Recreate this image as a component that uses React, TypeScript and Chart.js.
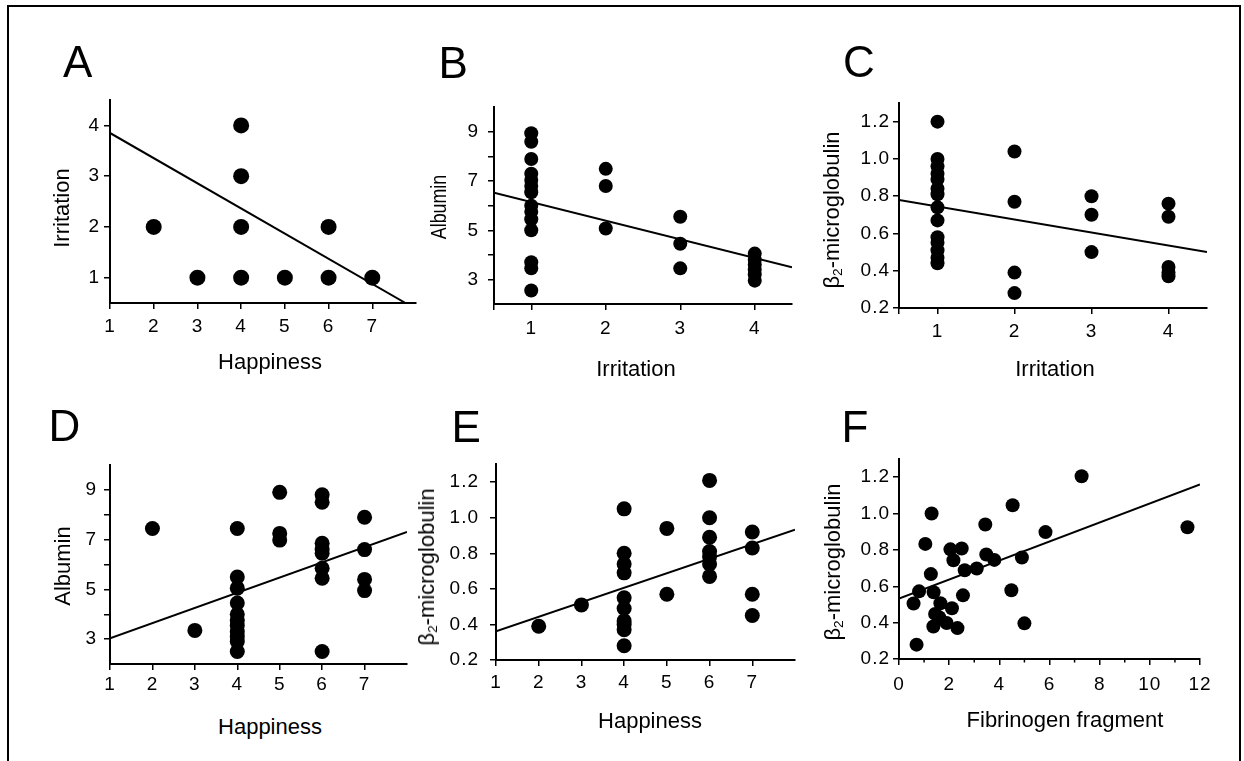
import React, { useEffect, useRef } from "react";
import { Chart, registerables } from "chart.js";

Chart.register(...registerables);

const FONT = "'Liberation Sans', Arial, Helvetica, sans-serif";

// ---------- Panel A: Happiness vs Irritation ----------
const A_HAPPINESS = [2, 3, 4, 4, 4, 4, 5, 6, 6, 7];
const A_IRRITATION = [2, 1, 4, 3, 2, 1, 1, 2, 1, 1];
const A_FIT = [{ x: 1, y: 3.85 }, { x: 7.76, y: 0.5 }];
const A_X_TICKS = [1, 2, 3, 4, 5, 6, 7];
const A_X_LABELS = ["1", "2", "3", "4", "5", "6", "7"];
const A_Y_TICKS = [1, 2, 3, 4];
const A_Y_LABELS = ["1", "2", "3", "4"];

// ---------- Panel B: Irritation vs Albumin ----------
const B_IRRITATION = [1, 1, 1, 1, 1, 1, 1, 1, 1, 1, 1, 1, 1, 1, 2, 2, 2, 3, 3, 3, 4, 4, 4, 4, 4, 4];
const B_ALBUMIN = [8.95, 8.6, 7.9, 7.3, 7.05, 6.8, 6.55, 6.0, 5.75, 5.45, 5.0, 3.7, 3.45, 2.55, 7.5, 6.8, 5.07, 5.55, 4.45, 3.45, 4.05, 3.8, 3.6, 3.4, 3.2, 2.95];
const B_FIT = [{ x: 0.5, y: 6.53 }, { x: 4.5, y: 3.49 }];
const IRR_X_TICKS = [0.5, 1, 2, 3, 4];
const IRR_X_LABELS = ["", "1", "2", "3", "4"];
const ALB_Y_TICKS = [3, 4, 5, 6, 7, 8, 9];
const ALB_Y_LABELS = ["3", "", "5", "", "7", "", "9"];

// ---------- Panel C: Irritation vs beta2-microglobulin ----------
const C_IRRITATION = [1, 1, 1, 1, 1, 1, 1, 1, 1, 1, 1, 1, 1, 1, 2, 2, 2, 2, 3, 3, 3, 4, 4, 4, 4, 4];
const C_B2M = [1.2, 1.0, 0.96, 0.92, 0.89, 0.84, 0.81, 0.74, 0.67, 0.58, 0.55, 0.51, 0.47, 0.44, 1.04, 0.77, 0.39, 0.28, 0.8, 0.7, 0.5, 0.76, 0.69, 0.42, 0.39, 0.37];
const C_FIT = [{ x: 0.5, y: 0.78 }, { x: 4.5, y: 0.5 }];
const B2M_Y_TICKS = [0.2, 0.4, 0.6, 0.8, 1.0, 1.2];
const B2M_Y_LABELS = ["0.2", "0.4", "0.6", "0.8", "1.0", "1.2"];

// ---------- Panel D: Happiness vs Albumin ----------
const D_HAPPINESS = [2, 3, 4, 4, 4, 4, 4, 4, 4, 4, 4, 4, 4, 5, 5, 5, 6, 6, 6, 6, 6, 6, 6, 6, 7, 7, 7, 7];
const D_ALBUMIN = [7.45, 3.35, 7.45, 5.5, 5.05, 4.45, 4.0, 3.75, 3.55, 3.3, 3.1, 2.9, 2.5, 8.9, 7.25, 6.98, 8.8, 8.5, 6.85, 6.6, 6.45, 5.85, 5.45, 2.5, 7.9, 6.6, 5.4, 4.95];
const D_FIT = [{ x: 1, y: 3.03 }, { x: 8, y: 7.31 }];
const HAP_X_TICKS = [1, 2, 3, 4, 5, 6, 7];
const HAP_X_LABELS = ["1", "2", "3", "4", "5", "6", "7"];

// ---------- Panel E: Happiness vs beta2-microglobulin ----------
const E_HAPPINESS = [2, 3, 4, 4, 4, 4, 4, 4, 4, 4, 4, 4, 5, 5, 6, 6, 6, 6, 6, 6, 6, 7, 7, 7, 7];
const E_B2M = [0.39, 0.51, 1.05, 0.8, 0.74, 0.69, 0.55, 0.49, 0.42, 0.4, 0.37, 0.28, 0.94, 0.57, 1.21, 1.0, 0.89, 0.81, 0.78, 0.74, 0.67, 0.92, 0.83, 0.57, 0.45];
const E_FIT = [{ x: 1, y: 0.362 }, { x: 8, y: 0.933 }];

// ---------- Panel F: Fibrinogen fragment vs beta2-microglobulin ----------
const F_FIBRINOGEN = [1.3, 1.05, 1.27, 0.8, 0.58, 0.7, 1.38, 1.65, 1.44, 1.6, 1.37, 1.9, 2.11, 2.33, 2.05, 2.5, 2.17, 2.62, 3.1, 2.55, 3.44, 3.48, 3.8, 4.53, 4.48, 4.9, 5.0, 5.84, 7.28, 11.5];
const F_B2M = [1.0, 0.833, 0.667, 0.572, 0.505, 0.279, 0.567, 0.507, 0.448, 0.43, 0.379, 0.398, 0.479, 0.37, 0.803, 0.808, 0.743, 0.688, 0.698, 0.55, 0.94, 0.775, 0.745, 1.046, 0.578, 0.758, 0.396, 0.898, 1.205, 0.925];
const F_FIT = [{ x: 0, y: 0.533 }, { x: 12, y: 1.16 }];
const FIB_X_TICKS = [0, 2, 4, 6, 8, 10, 12];
const FIB_X_LABELS = ["0", "2", "4", "6", "8", "10", "12"];
const FIB_X_MINOR = [1, 3, 5, 7, 9, 11];

type Rect = { l: number; t: number; r: number; b: number };

type PanelProps = {
  rect: Rect;
  xs: number[];
  ys: number[];
  fit: { x: number; y: number }[];
  xMin: number;
  xMax: number;
  yMin: number;
  yMax: number;
  xTicks: number[];
  xLabels: string[];
  yTicks: number[];
  yLabels: string[];
  radius: number;
  xPad: number;
  yPad: number;
  minorX?: number[];
};

const PAD_L = 70;
const PAD_T = 20;
const PAD_R = 30;
const PAD_B = 50;
const TICK_FONT_SIZE = 19;

const minorTicksPlugin = {
  id: "minorTicks",
  beforeDraw(chart: any) {
    chart.ctx.letterSpacing = "1px";
  },
  afterDraw(chart: any, _args: any, opts: any) {
    chart.ctx.letterSpacing = "0px";
    const vals: number[] | undefined = opts && opts.values;
    if (!vals || !vals.length) return;
    const sx = chart.scales.x;
    const y0 = chart.chartArea.bottom;
    const ctx = chart.ctx;
    ctx.save();
    ctx.strokeStyle = "#000";
    ctx.lineWidth = 1.5;
    vals.forEach((v) => {
      const px = sx.getPixelForValue(v);
      ctx.beginPath();
      ctx.moveTo(px, y0);
      ctx.lineTo(px, y0 + 3.5);
      ctx.stroke();
    });
    ctx.restore();
  },
};

function Panel(p: PanelProps) {
  const ref = useRef<HTMLCanvasElement | null>(null);
  const w = p.rect.r - p.rect.l + PAD_L + PAD_R;
  const h = p.rect.b - p.rect.t + PAD_T + PAD_B;

  useEffect(() => {
    if (!ref.current) return;
    const points = p.xs.map((x, i) => ({ x, y: p.ys[i] }));
    const chart = new Chart(ref.current, {
      type: "scatter",
      data: {
        datasets: [
          {
            data: p.fit,
            showLine: true,
            borderColor: "#000",
            borderWidth: 2,
            pointRadius: 0,
            pointHoverRadius: 0,
            fill: false,
          } as any,
          {
            data: points,
            showLine: false,
            pointRadius: p.radius,
            pointHoverRadius: p.radius,
            pointBackgroundColor: "#000",
            pointBorderWidth: 0,
            pointBorderColor: "#000",
            clip: false,
          } as any,
        ],
      },
      options: {
        animation: false,
        responsive: false,
        events: [],
        layout: { padding: { left: 0, top: PAD_T, right: PAD_R, bottom: 0 } },
        plugins: {
          legend: { display: false },
          tooltip: { enabled: false },
          minorTicks: { values: p.minorX || [] },
        } as any,
        scales: {
          x: {
            type: "linear",
            min: p.xMin,
            max: p.xMax,
            afterFit: (s: any) => {
              s.height = PAD_B;
            },
            afterBuildTicks: (s: any) => {
              s.ticks = p.xTicks.map((v) => ({ value: v }));
            },
            grid: {
              drawOnChartArea: false,
              drawTicks: true,
              tickLength: 6,
              color: "#000",
              lineWidth: 1.5,
            },
            border: { display: true, color: "#000", width: 2 },
            ticks: {
              autoSkip: false,
              maxRotation: 0,
              padding: p.xPad,
              color: "#000",
              font: { family: FONT, size: TICK_FONT_SIZE },
              callback: (_v: any, i: number) => p.xLabels[i],
            },
            title: { display: false },
          },
          y: {
            type: "linear",
            min: p.yMin,
            max: p.yMax,
            afterFit: (s: any) => {
              s.width = PAD_L;
            },
            afterBuildTicks: (s: any) => {
              s.ticks = p.yTicks.map((v) => ({ value: v }));
            },
            grid: {
              drawOnChartArea: false,
              drawTicks: true,
              tickLength: 6,
              color: "#000",
              lineWidth: 1.5,
            },
            border: { display: true, color: "#000", width: 2 },
            ticks: {
              autoSkip: false,
              padding: p.yPad,
              color: "#000",
              font: { family: FONT, size: TICK_FONT_SIZE },
              callback: (_v: any, i: number) => p.yLabels[i],
            },
            title: { display: false },
          },
        },
      } as any,
      plugins: [minorTicksPlugin as any],
    });
    return () => chart.destroy();
  }, []);

  return (
    <canvas
      ref={ref}
      width={w}
      height={h}
      style={{
        position: "absolute",
        left: p.rect.l - PAD_L,
        top: p.rect.t - PAD_T,
        width: w,
        height: h,
      }}
    />
  );
}

const textBase: React.CSSProperties = {
  position: "absolute",
  fontFamily: FONT,
  color: "#000",
  lineHeight: 1,
  whiteSpace: "nowrap",
};

function Letter({ text, left, capCenter }: { text: string; left: number; capCenter: number }) {
  return (
    <div style={{ ...textBase, fontSize: 44, left, top: capCenter - 21.5 }}>{text}</div>
  );
}

function XTitle({ children, cx, cy }: { children: React.ReactNode; cx: number; cy: number }) {
  return (
    <div style={{ ...textBase, fontSize: 22, left: cx, top: cy, transform: "translate(-50%, -50%)" }}>
      {children}
    </div>
  );
}

function YTitle({ children, cx, cy, squeeze = 1 }: { children: React.ReactNode; cx: number; cy: number; squeeze?: number }) {
  return (
    <div
      style={{
        ...textBase,
        fontSize: 22,
        left: cx,
        top: cy,
        transform: `translate(-50%, -50%) rotate(-90deg) scaleX(${squeeze})`,
      }}
    >
      {children}
    </div>
  );
}

function B2M() {
  return (
    <span>
      β<span style={{ fontSize: "0.62em", position: "relative", top: "0.25em" }}>2</span>-microglobulin
    </span>
  );
}

export default function App() {
  return (
    <div
      style={{
        position: "absolute",
        left: 0,
        top: 0,
        width: 1244,
        height: 761,
        overflow: "hidden",
        background: "#fff",
      }}
    >
      <div
        style={{
          position: "absolute",
          left: 7,
          top: 5,
          width: 1234,
          height: 900,
          border: "2px solid #000",
          boxSizing: "border-box",
        }}
      />

      <Panel
        rect={{ l: 110, t: 100, r: 416, b: 303 }}
        xs={A_HAPPINESS}
        ys={A_IRRITATION}
        fit={A_FIT}
        xMin={1}
        xMax={8}
        yMin={0.5}
        yMax={4.5}
        xTicks={A_X_TICKS}
        xLabels={A_X_LABELS}
        yTicks={A_Y_TICKS}
        yLabels={A_Y_LABELS}
        radius={8}
        xPad={6}
        yPad={4}
      />
      <Panel
        rect={{ l: 494, t: 107, r: 792, b: 304 }}
        xs={B_IRRITATION}
        ys={B_ALBUMIN}
        fit={B_FIT}
        xMin={0.5}
        xMax={4.5}
        yMin={2}
        yMax={10}
        xTicks={IRR_X_TICKS}
        xLabels={IRR_X_LABELS}
        yTicks={ALB_Y_TICKS}
        yLabels={ALB_Y_LABELS}
        radius={7}
        xPad={7}
        yPad={9}
      />
      <Panel
        rect={{ l: 899, t: 103, r: 1207, b: 308 }}
        xs={C_IRRITATION}
        ys={C_B2M}
        fit={C_FIT}
        xMin={0.5}
        xMax={4.5}
        yMin={0.2}
        yMax={1.3}
        xTicks={IRR_X_TICKS}
        xLabels={IRR_X_LABELS}
        yTicks={B2M_Y_TICKS}
        yLabels={B2M_Y_LABELS}
        radius={7}
        xPad={6}
        yPad={3}
      />
      <Panel
        rect={{ l: 110, t: 465, r: 407, b: 664 }}
        xs={D_HAPPINESS}
        ys={D_ALBUMIN}
        fit={D_FIT}
        xMin={1}
        xMax={8}
        yMin={2}
        yMax={10}
        xTicks={HAP_X_TICKS}
        xLabels={HAP_X_LABELS}
        yTicks={ALB_Y_TICKS}
        yLabels={ALB_Y_LABELS}
        radius={7.5}
        xPad={3}
        yPad={7}
      />
      <Panel
        rect={{ l: 496, t: 462, r: 795, b: 660 }}
        xs={E_HAPPINESS}
        ys={E_B2M}
        fit={E_FIT}
        xMin={1}
        xMax={8}
        yMin={0.2}
        yMax={1.3}
        xTicks={HAP_X_TICKS}
        xLabels={HAP_X_LABELS}
        yTicks={B2M_Y_TICKS}
        yLabels={B2M_Y_LABELS}
        radius={7.5}
        xPad={5}
        yPad={11}
      />
      <Panel
        rect={{ l: 899, t: 459, r: 1200, b: 659 }}
        xs={F_FIBRINOGEN}
        ys={F_B2M}
        fit={F_FIT}
        xMin={0}
        xMax={12}
        yMin={0.2}
        yMax={1.3}
        xTicks={FIB_X_TICKS}
        xLabels={FIB_X_LABELS}
        yTicks={B2M_Y_TICKS}
        yLabels={B2M_Y_LABELS}
        radius={7}
        xPad={8}
        yPad={3}
        minorX={FIB_X_MINOR}
      />

      <Letter text="A" left={63} capCenter={61} />
      <Letter text="B" left={438.5} capCenter={62} />
      <Letter text="C" left={843} capCenter={61.5} />
      <Letter text="D" left={48.5} capCenter={425.5} />
      <Letter text="E" left={451.5} capCenter={426.5} />
      <Letter text="F" left={841.5} capCenter={426.5} />

      <XTitle cx={270} cy={361.5}>Happiness</XTitle>
      <XTitle cx={636} cy={369}>Irritation</XTitle>
      <XTitle cx={1055} cy={369}>Irritation</XTitle>
      <XTitle cx={270} cy={726.5}>Happiness</XTitle>
      <XTitle cx={650} cy={720.5}>Happiness</XTitle>
      <XTitle cx={1065} cy={720}>Fibrinogen fragment</XTitle>

      <YTitle cx={61.5} cy={208}>Irritation</YTitle>
      <YTitle cx={438.5} cy={207} squeeze={0.81}>Albumin</YTitle>
      <YTitle cx={832} cy={210}><B2M /></YTitle>
      <YTitle cx={62.5} cy={566}>Albumin</YTitle>
      <YTitle cx={427} cy={567}><B2M /></YTitle>
      <YTitle cx={833} cy={562}><B2M /></YTitle>
    </div>
  );
}
